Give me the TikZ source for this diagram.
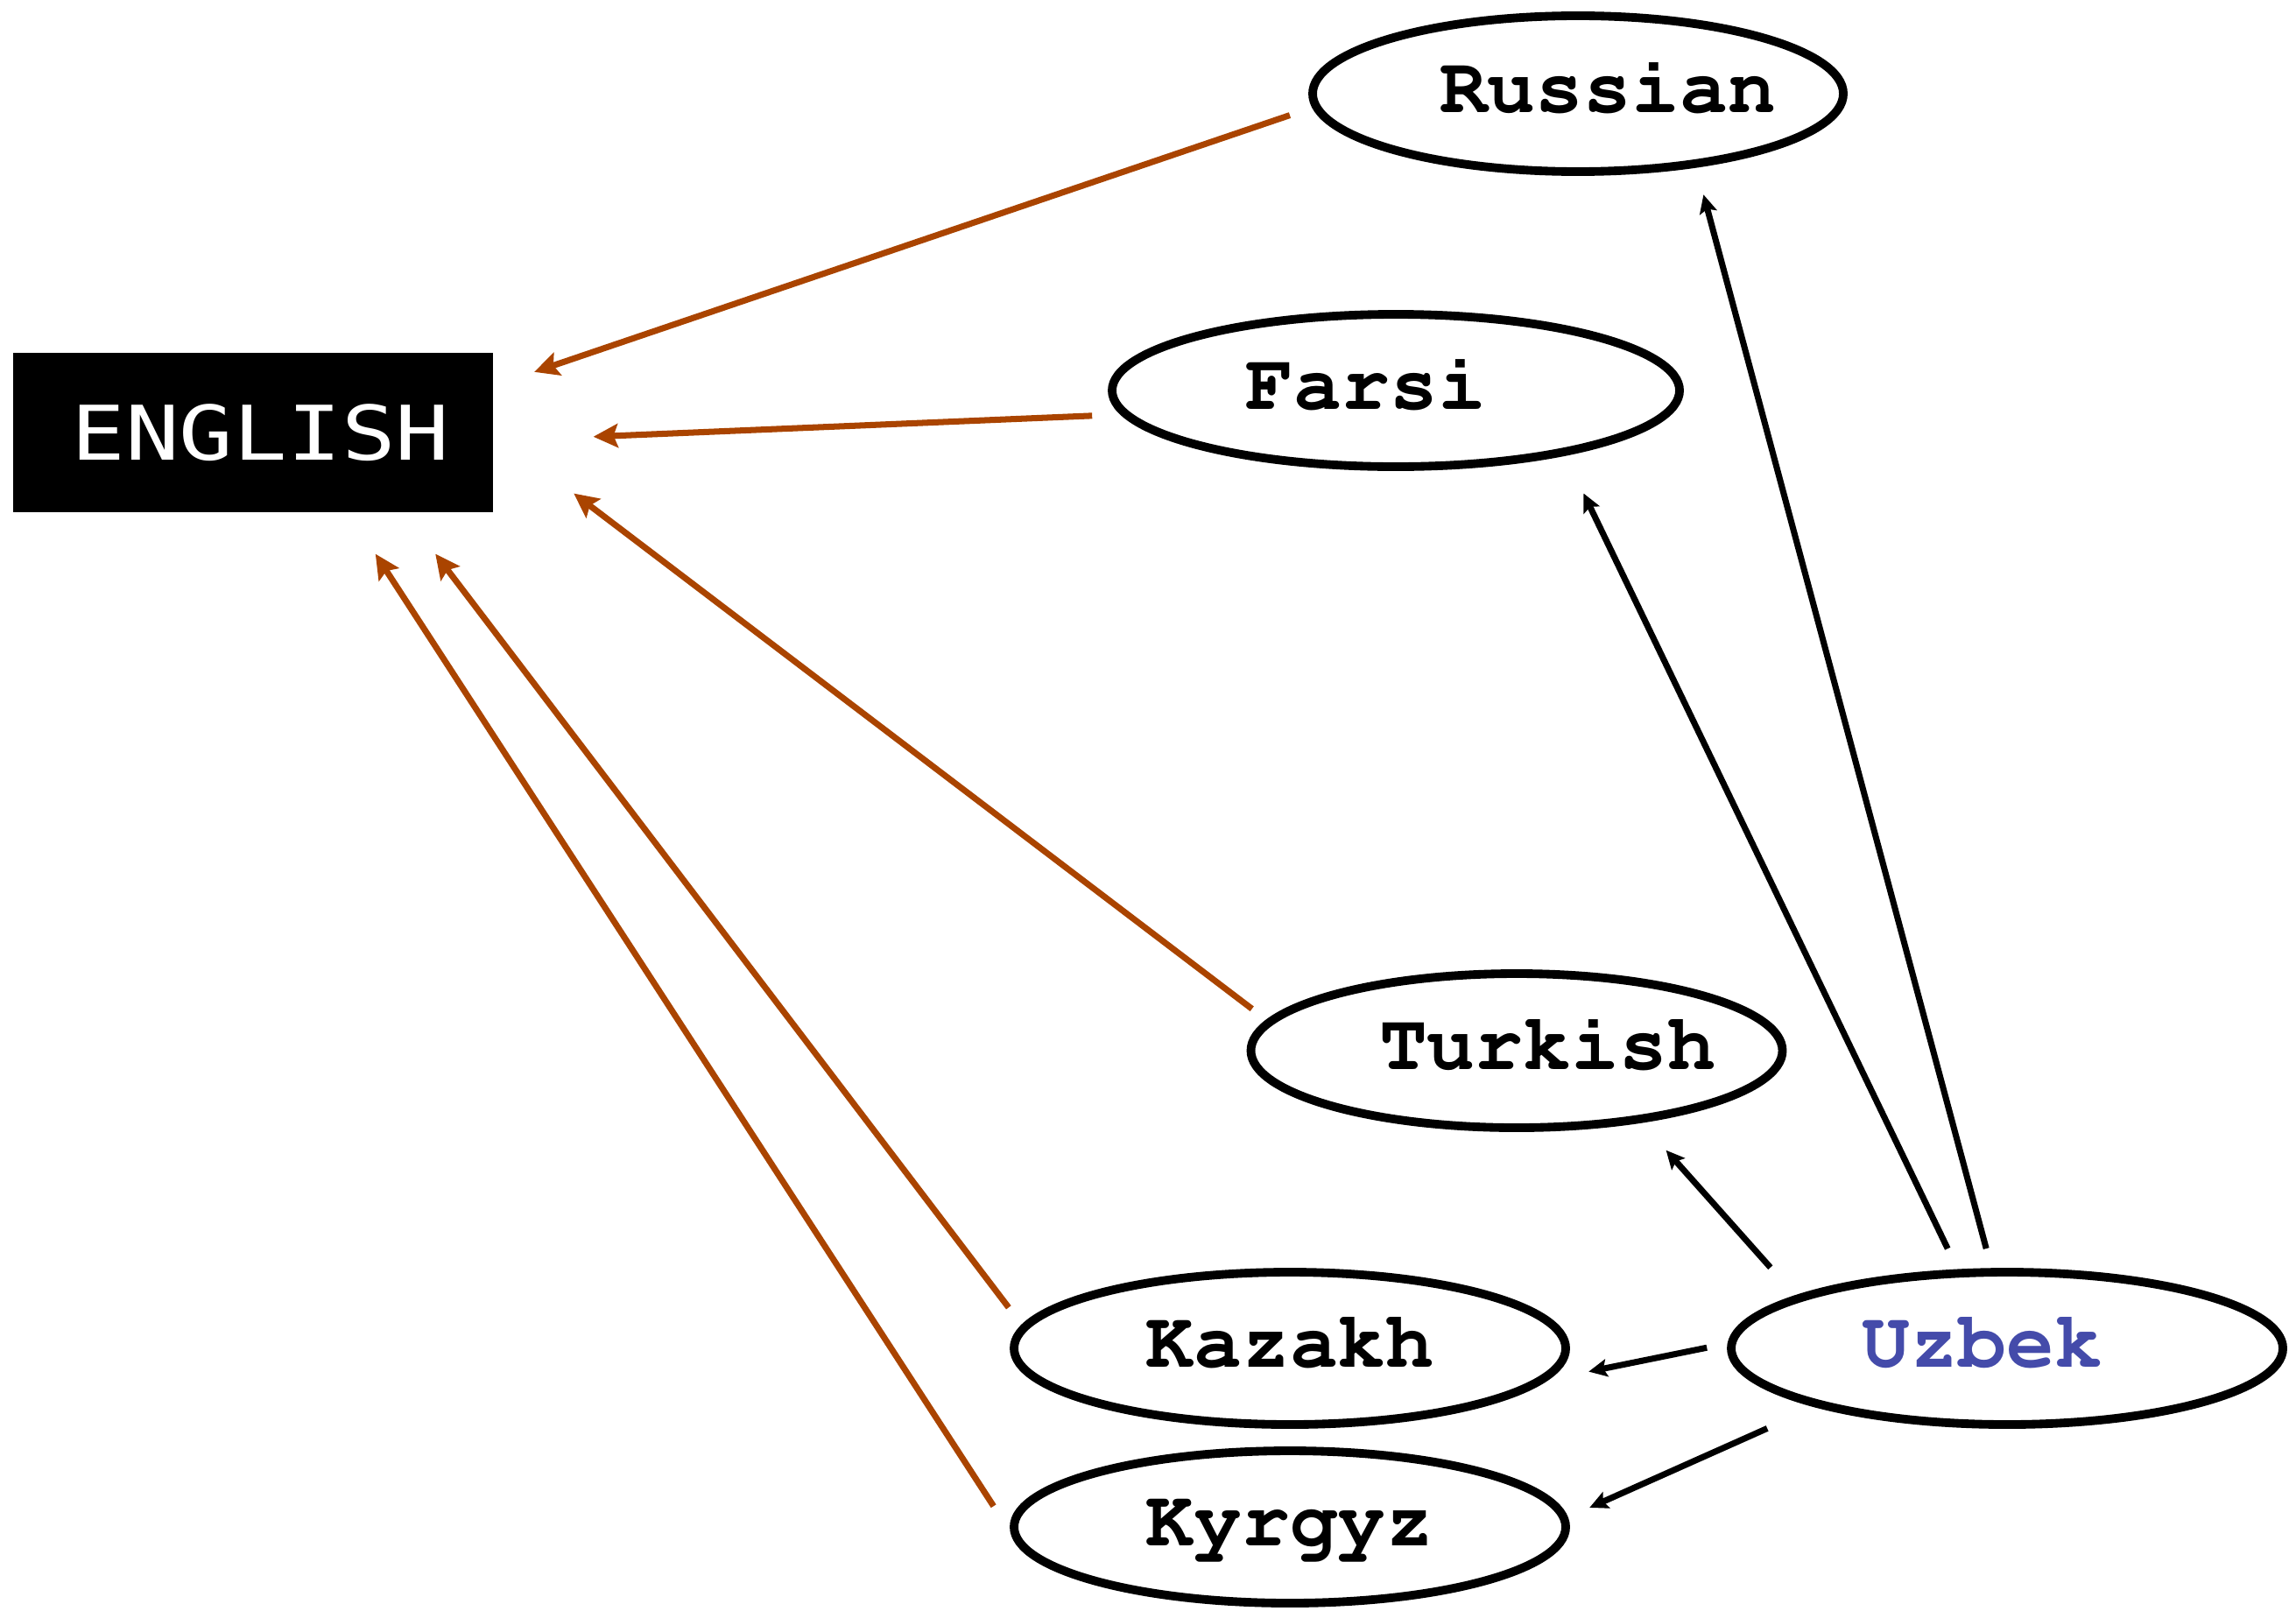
\documentclass[tikz,border=0pt]{standalone}
\usepackage[T1,TU]{fontenc}
\usepackage{fontspec}
\usepackage{xcolor}
\newfontfamily\engfont{DejaVu Sans Mono}[FakeStretch=1.19]
\newcommand{\courbf}{\fontencoding{T1}\fontfamily{pcr}\fontseries{b}\selectfont}
\usetikzlibrary{arrows.meta, shapes.geometric}
\definecolor{rust}{HTML}{AA4400}
\definecolor{uzblue}{HTML}{444BAA}

\begin{document}
\begin{tikzpicture}[
  lang/.style={ellipse, draw, line width=2.8pt, inner sep=0pt,
    minimum width=6.3cm, minimum height=1.74cm},
  langtext/.style={font=\courbf\fontsize{26}{30}\selectfont,
    inner sep=0pt, text height=0.43cm, text depth=0pt},
  toeng/.style={draw=rust, line width=2pt,
    -{Stealth[length=0.28cm, width=0.27cm, inset=0.05cm]}},
  fromuz/.style={draw=black, line width=2pt,
    -{Stealth[length=0.21cm, width=0.2cm, inset=0.04cm]}}
]
  \useasboundingbox (0,0) rectangle (26.22,-18.39);

  % --- target language
  \node[fill=black, text=white, inner sep=0pt, minimum width=5.48cm, minimum height=1.82cm,
    font=\engfont\fontsize{24.5}{30}\selectfont] (en) at (2.89,-4.94) {\hspace*{1.7mm}ENGLISH};

  % --- source languages (ellipses, text set a little off centre)
  \node[lang, minimum width=6.06cm, minimum height=1.78cm] (ru) at (18.02,-1.07) {};
  \node[langtext, xshift=3.4mm] (rutxt) at (ru) {Russian};
  \node[lang, minimum width=6.48cm] (fa) at (15.94,-4.46) {};
  \node[langtext, xshift=-3.4mm] (fatxt) at (fa) {Farsi};
  \node[lang, minimum width=6.07cm, minimum height=1.76cm] (tr) at (17.32,-12.00) {};
  \node[langtext, xshift=3.5mm] (trtxt) at (tr) {Turkish};
  \node[lang] (kz) at (14.73,-15.40) {};
  \node[langtext] (kztxt) at (kz) {Kazakh};
  \node[lang] (kg) at (14.73,-17.44) {};
  \node[langtext] (kgtxt) at (kg) {Kyrgyz};
  \node[lang] (uz) at (22.92,-15.40) {};
  \node[langtext, text=uzblue, xshift=-2.8mm] (uztxt) at (uz) {Uzbek};

  % --- orange arrows into ENGLISH
  \draw[toeng, shorten <=0.27cm, shorten >=0.49cm] (ru.183) -- (en.11);
  \draw[toeng, shorten <=0.33cm, shorten >=1.14cm] (fa.185) -- (en.358);
  \draw[toeng, shorten <=0.21cm, shorten >=1.15cm] (tr.173.5) -- (en.0);
  \draw[toeng, shorten <=0.25cm, shorten >=0.59cm] (kz.175) -- (en.332);
  \draw[toeng, shorten <=0.35cm, shorten >=0.56cm] (kg.181) -- (en.320);

  % --- black arrows out of Uzbek
  \draw[fromuz, shorten <=0.23cm, shorten >=0.32cm] (uz.101.7) -- (ru.328.6);
  \draw[fromuz, shorten <=0.26cm, shorten >=0.48cm] (uz.122.1) -- (fa.339.8);
  \draw[fromuz, shorten <=0.43cm, shorten >=0.42cm] (uz.166.5) -- (tr.330.9);
  \draw[fromuz, shorten <=0.24cm, shorten >=0.48cm] (uz.179.6) -- (kz.353.1);
  \draw[fromuz, shorten <=0.60cm, shorten >=0.27cm] (uz.197.1) -- (kg.2);
\end{tikzpicture}
\end{document}
